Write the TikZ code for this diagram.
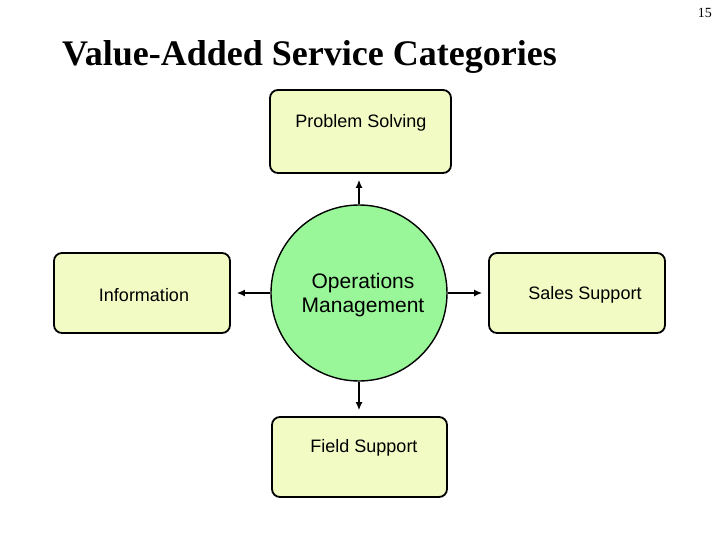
\documentclass[tikz,border=0pt]{standalone}
\usepackage{fontspec}
\setmainfont{Liberation Sans}
\newfontfamily\slidefont{Liberation Serif}
\usepackage{xcolor}
\usepackage{tikz}
\usetikzlibrary{arrows.meta,positioning,shapes.geometric}
\definecolor{vaboxfill}{HTML}{F3FBC4}
\definecolor{vacore}{HTML}{99F799}
\tikzset{
  vabox/.style={draw=black,line width=1.8pt,fill=vaboxfill,rounded corners=8pt,
    minimum width=176pt,minimum height=80pt,inner sep=0pt},
  vatext/.style={font=\fontsize{18}{21}\selectfont,inner sep=0pt},
  vacore/.style={circle,draw=black,line width=1.4pt,fill=vacore,minimum size=176pt,
    inner sep=0pt},
  flow/.style={-{Latex[length=8pt,width=7pt]},line width=1.3pt,shorten >=6pt}
}
\begin{document}
\begin{tikzpicture}[x=1pt,y=-1pt]
  \useasboundingbox (0,0) rectangle (720,540);
  % heading
  \node[anchor=base west,inner sep=0pt,font=\slidefont\bfseries\fontsize{36}{40}\selectfont] (title) at (62,66) {Value-Added Service Categories};
  \node[anchor=base east,inner sep=0pt,font=\slidefont\fontsize{14}{16}\selectfont] (pagenum) at (712,18) {15};
  % core and categories
  \node[vacore] (ops) at (359,293) {};
  \node[vabox,minimum width=181pt,minimum height=83pt] (ps) at (360.5,131.5) {};
  \node[vabox] (info) at (142,293) {};
  \node[vabox] (sales) at (577,293) {};
  \node[vabox,minimum width=175pt] (fs) at (359.5,457) {};
  \node[vatext,align=center,font=\fontsize{21}{24}\selectfont] (opstxt) at (363,295) {Operations\\ Management};
  \node[vatext] (pstxt) at (361,123) {Problem Solving};
  \node[vatext] (infotxt) at (144,295) {Information};
  \node[vatext] (salestxt) at (585,295) {Sales Support};
  \node[vatext] (fstxt) at (364,448) {Field Support};
  \draw[flow] (ops.north) -- (ops.north |- ps.south);
  \draw[flow] (ops.south) -- (ops.south |- fs.north);
  \draw[flow] (ops.west) -- (ops.west -| info.east);
  \draw[flow] (ops.east) -- (ops.east -| sales.west);
\end{tikzpicture}
\end{document}
